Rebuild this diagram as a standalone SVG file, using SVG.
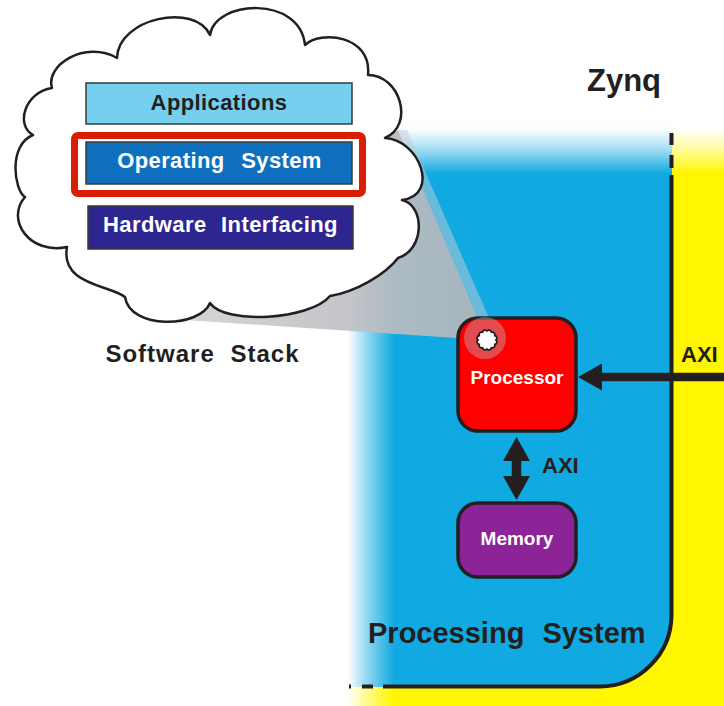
<svg xmlns="http://www.w3.org/2000/svg" width="724" height="706" viewBox="0 0 724 706">
  <style>
    text { font-family: "Liberation Sans", Arial, Helvetica, sans-serif; font-weight: bold; }
    .dark { fill: #231f20; }
    .white { fill: #ffffff; }
    .layer { stroke: #3a3a3a; stroke-width: 1.5; }
    .edge { stroke: #231f20; fill: none; }
    .box { stroke: #231f20; stroke-width: 3.5; }
  </style>
  <defs>
    <linearGradient id="fadeTop" x1="0" y1="118" x2="0" y2="174" gradientUnits="userSpaceOnUse">
      <stop offset="0" stop-color="#ffffff" stop-opacity="1"/>
      <stop offset="0.22" stop-color="#ffffff" stop-opacity="0.97"/>
      <stop offset="0.55" stop-color="#ffffff" stop-opacity="0.62"/>
      <stop offset="1" stop-color="#ffffff" stop-opacity="0"/>
    </linearGradient>
    <linearGradient id="fadeLeft" x1="348" y1="0" x2="394" y2="0" gradientUnits="userSpaceOnUse">
      <stop offset="0" stop-color="#ffffff" stop-opacity="1"/>
      <stop offset="0.4" stop-color="#ffffff" stop-opacity="0.55"/>
      <stop offset="1" stop-color="#ffffff" stop-opacity="0"/>
    </linearGradient>
    <linearGradient id="beamFill" x1="140" y1="0" x2="490" y2="0" gradientUnits="userSpaceOnUse">
      <stop offset="0" stop-color="#d6d6d8"/>
      <stop offset="0.6" stop-color="#bec0c4"/>
      <stop offset="1" stop-color="#b2b5ba"/>
    </linearGradient>
    <marker id="head" viewBox="0 0 24 27" refX="6" refY="13.5" markerWidth="24" markerHeight="27" markerUnits="userSpaceOnUse" orient="auto-start-reverse">
      <path d="M0,0 L24,13.5 L0,27 Z" fill="#231f20"/>
    </marker>
  </defs>

  <!-- programmable logic (yellow) and processing system (blue) regions -->
  <rect x="348" y="118" width="376" height="588" fill="#fff600"/>
  <path d="M348,118 H672 V615 A72,72 0 0 1 600,687 H348 Z" fill="#10a9e1"/>
  <rect x="340" y="110" width="384" height="64" fill="url(#fadeTop)"/>
  <rect x="345" y="118" width="50" height="590" fill="url(#fadeLeft)"/>

  <!-- processing system outline, dashed where it fades out -->
  <g id="ps-outline" stroke-width="4">
    <path class="edge" d="M671.5,175 V615 A72,72 0 0 1 600,686.5 H383"/>
    <path class="edge" d="M671.5,133 V145 M671.5,155 V168 M373,686.5 H362 M351,686.5 H349"/>
  </g>

  <!-- zoom beam from the processor to the software stack bubble -->
  <g id="beam">
    <polygon points="398,130 487,340 140,317" fill="url(#beamFill)" opacity="0.92"/>
    <polygon points="398,130 407,130 496,334 487,340" fill="#c4ccd4" opacity="0.5"/>
  </g>

  <g id="processor">
    <rect class="box" x="458" y="318" width="118" height="113" rx="20" fill="#ff0000"/>
    <circle cx="485" cy="338" r="21" fill="#b8bdc4" opacity="0.4"/>
    <path transform="translate(487,340)" fill="#ffffff" stroke="#231f20" stroke-width="1.8"
      d="M9,0 A2.6,2.6 0 0 1 7.79,4.5 A2.6,2.6 0 0 1 4.5,7.79 A2.6,2.6 0 0 1 0,9 A2.6,2.6 0 0 1 -4.5,7.79 A2.6,2.6 0 0 1 -7.79,4.5 A2.6,2.6 0 0 1 -9,0 A2.6,2.6 0 0 1 -7.79,-4.5 A2.6,2.6 0 0 1 -4.5,-7.79 A2.6,2.6 0 0 1 0,-9 A2.6,2.6 0 0 1 4.5,-7.79 A2.6,2.6 0 0 1 7.79,-4.5 A2.6,2.6 0 0 1 9,0 Z"/>
    <text class="white" x="517" y="384" font-size="19" text-anchor="middle">Processor</text>
  </g>

  <g id="memory">
    <rect class="box" x="458" y="503" width="118" height="74" rx="20" fill="#8c2397"/>
    <text class="white" x="517" y="545" font-size="19" text-anchor="middle">Memory</text>
  </g>

  <!-- software stack bubble -->
  <g id="software-stack">
    <path fill="#ffffff" stroke="#231f20" stroke-width="2.5" stroke-linejoin="round"
      d="M117,58 C118,18 195,2 210,35 C215,0 300,-5 305,45 C320,30 372,35 368,75 C400,75 415,125 385,138 C420,140 440,195 402,200 C425,205 425,250 398,258 C385,275 355,292 330,296 C310,320 225,325 210,303 C200,328 130,330 125,297 C110,285 60,285 67,247 C30,255 5,220 25,197 C14,190 8,145 33,135 C15,125 25,92 52,88 C45,65 85,40 117,58 Z"/>
    <g id="layer-apps">
      <rect class="layer" x="86" y="83" width="266" height="41" fill="#75cfee"/>
      <text class="dark" x="219" y="110" font-size="22" text-anchor="middle" letter-spacing="0.4">Applications</text>
    </g>
    <g id="layer-os">
      <rect class="layer" x="86" y="142" width="266" height="42" fill="#0f6fbf"/>
      <text class="white" x="219.5" y="168" font-size="22" text-anchor="middle" letter-spacing="0.4" word-spacing="10">Operating System</text>
      <rect x="74.5" y="135.5" width="288" height="58" rx="3.5" fill="none" stroke="#d81f05" stroke-width="7"/>
    </g>
    <g id="layer-hw">
      <rect class="layer" x="88" y="206" width="265" height="43" fill="#2e2690"/>
      <text class="white" x="220.5" y="232" font-size="22" text-anchor="middle" letter-spacing="0.4" word-spacing="8">Hardware Interfacing</text>
    </g>
  </g>

  <!-- labels -->
  <text class="dark" x="202.5" y="362" font-size="24" text-anchor="middle" letter-spacing="1" word-spacing="8">Software Stack</text>
  <text class="dark" x="587" y="91" font-size="31">Zynq</text>
  <text class="dark" x="368" y="643" font-size="29" word-spacing="10">Processing System</text>

  <!-- AXI connectors -->
  <g id="connectors" stroke="#231f20" fill="none">
    <line x1="724" y1="377" x2="596" y2="377" stroke-width="8.5" marker-end="url(#head)"/>
    <line x1="516.5" y1="455" x2="516.5" y2="482" stroke-width="9.5" marker-start="url(#head)" marker-end="url(#head)"/>
  </g>
  <text class="dark" x="681" y="362" font-size="22">AXI</text>
  <text class="dark" x="542" y="473" font-size="22">AXI</text>
</svg>
